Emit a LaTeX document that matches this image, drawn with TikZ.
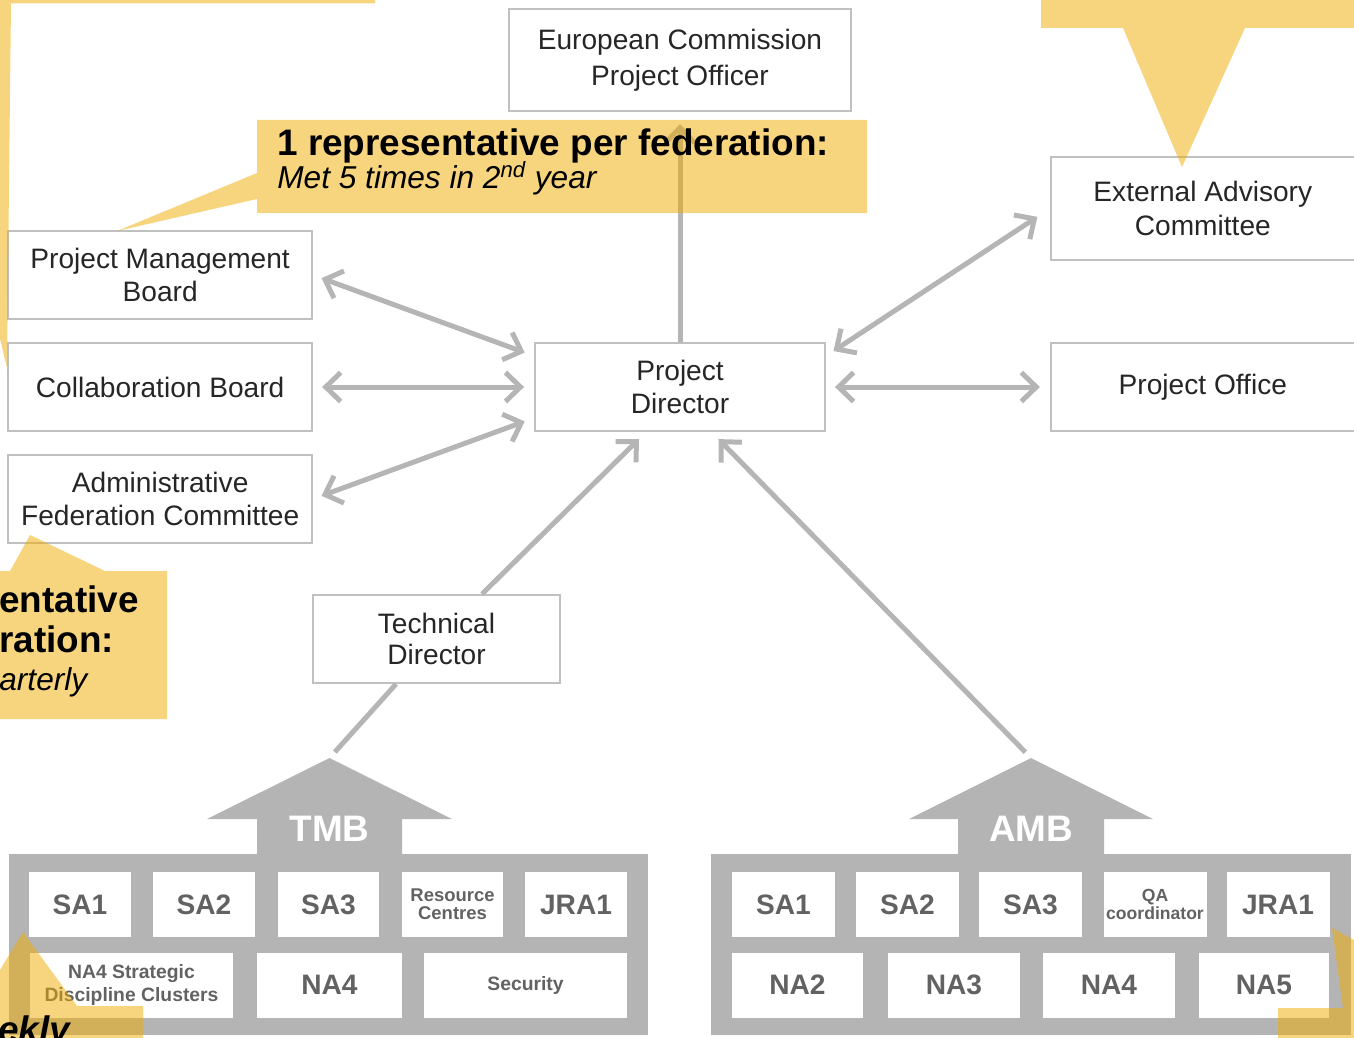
\documentclass[tikz,border=0pt]{standalone}
\usepackage{fontspec}
\setmainfont{Liberation Sans}
\usetikzlibrary{arrows.meta,positioning}
\definecolor{boxline}{RGB}{192,192,192}
\definecolor{linkgray}{RGB}{181,181,181}
\definecolor{housegray}{RGB}{180,180,180}
\definecolor{celltext}{RGB}{98,98,98}
\definecolor{noteyellow}{RGB}{240,172,0}
\tikzset{
	barb/.tip={Straight Barb[length=0.3cm,width=0.58cm]},
	role/.style ={rectangle, draw=boxline, line width=1.1pt, fill=white, inner sep=0pt,
		align=center, text=black!85, font=\fontsize{16}{19}\selectfont,
		minimum width=6.08cm, minimum height=1.76cm},
	link/.style={draw=linkgray, line width=0.1cm},
	twoway/.style={link, barb-barb, shorten <=0.18cm, shorten >=0.2cm},
	oneway/.style={link, -barb, shorten >=0.2cm},
	cell/.style={fill=white, inner sep=0pt, minimum height=1.3cm, align=center,
		text=celltext, font=\bfseries\fontsize{16}{18}\selectfont},
	smallcell/.style={cell, font=\bfseries\fontsize{10.5}{10.5}\selectfont},
	housetag/.style={text=white, font=\bfseries\fontsize{21}{22}\selectfont},
	note/.style={fill=noteyellow, fill opacity=0.5},
	notebold/.style={anchor=base west, inner sep=0pt, font=\bfseries\fontsize{21}{23}\selectfont},
	noteital/.style={anchor=base west, inner sep=0pt, font=\itshape\fontsize{18}{20}\selectfont}
}

\begin{document}
\begin{tikzpicture}[x=0.02cm, y=-0.02cm]
	\useasboundingbox (0,0) rectangle (1354,1037);

	\node[role, minimum width=5.8cm] (pd) at (680,387) {Project\\Director};
	\node[role, minimum width=6.84cm, minimum height=2.04cm, font=\fontsize{16}{20.5}\selectfont] (ec) [above=4.6cm of pd] {European Commission\\Project Officer};
	\node[role] (po) [right=4.48cm of pd] {Project Office};
	\node[role, minimum height=2.06cm] (eac) [above=1.62cm of po] {External Advisory\\Committee};
	\node[role] (cb) [left=4.42cm of pd] {Collaboration Board};
	\node[role] (pmb) [above=0.44cm of cb] {Project Management\\Board};
	\node[role] (afc) [below=0.44cm of cb] {Administrative\\Federation Committee};
	\node[role, minimum width=4.94cm, font=\fontsize{16}{17.5}\selectfont] (td) at (436.5,639) {Technical\\Director};

	% the two management boards
	\fill[housegray] (9,854) rectangle (648,1035);
	\fill[housegray] (257,856) -- (257,819) -- (207,819) -- (329.5,758) -- (452,819) -- (402,819) -- (402,856) -- cycle;
	\coordinate (tmbtip) at (329.5,758);
	\node[housetag] (tmb) at (329.5,829) {TMB};
	\node[cell, minimum width=2.04cm] (tsa1) at (80,904.5) {SA1};
	\node[cell, minimum width=2.04cm] (tsa2) at (204,904.5) {SA2};
	\node[cell, minimum width=2.04cm] (tsa3) at (328.5,904.5) {SA3};
	\node[smallcell, minimum width=2.04cm] (trc) at (452.5,904.5) {Resource\\Centres};
	\node[cell, minimum width=2.04cm] (tjra1) at (576,904.5) {JRA1};
	\node[smallcell, minimum width=4.06cm, font=\bfseries\fontsize{11}{13.5}\selectfont] (tna4s) at (131.5,985) {NA4 Strategic\\Discipline Clusters};
	\node[cell, minimum width=2.9cm] (tna4) at (329.5,985) {NA4};
	\node[smallcell, minimum width=4.06cm, font=\bfseries\fontsize{11}{13}\selectfont] (tsec) at (525.5,985) {Security};

	\fill[housegray] (711,854) rectangle (1351,1035);
	\fill[housegray] (958,856) -- (958,819) -- (909,819) -- (1031,758) -- (1153,819) -- (1104,819) -- (1104,856) -- cycle;
	\coordinate (ambtip) at (1031,758);
	\node[housetag] (amb) at (1031,829) {AMB};
	\node[cell, minimum width=2.06cm] (asa1) at (783.5,904.5) {SA1};
	\node[cell, minimum width=2.06cm] (asa2) at (907.5,904.5) {SA2};
	\node[cell, minimum width=2.06cm] (asa3) at (1030.5,904.5) {SA3};
	\node[smallcell, minimum width=2.06cm, font=\bfseries\fontsize{10}{10.5}\selectfont] (aqa) at (1155,904.5) {QA\\coordinator};
	\node[cell, minimum width=2.06cm] (ajra1) at (1278,904.5) {JRA1};
	\node[cell, minimum width=2.62cm] (ana2) at (797.5,985) {NA2};
	\node[cell, minimum width=2.64cm] (ana3) at (954,985) {NA3};
	\node[cell, minimum width=2.64cm] (ana4) at (1109,985) {NA4};
	\node[cell, minimum width=2.6cm] (ana5) at (1264,985) {NA5};

	\path (pmb.east) edge[twoway] (pd.168);
	\path (cb) edge[twoway] (pd);
	\path (afc.east) edge[twoway] (pd.192);
	\path (pd.12) edge[twoway, shorten >=0.3cm] (eac.west);
	\path (pd) edge[twoway] (po);
	\path (pd) edge[oneway, shorten >=0.24cm] (ec);
	\path (td) edge[oneway] (pd.233);
	\path (tmbtip) edge[link, shorten <=0.16cm] (td);
	\path (ambtip) edge[oneway, shorten <=0.16cm] (pd.305);

	% callouts
	\fill[note] (257,120) -- (867,120) -- (867,213) -- (257,213) -- (257,199) -- (117,231) -- (257,173) -- cycle;
	\node[notebold] (note1a) at (277,155) {1 representative per federation:};
	\node[noteital] (note1b) at (277,189) {Met 5 times in 2\textsuperscript{nd} year};
	\fill[note] (-10,571) -- (10,571) -- (30,535) -- (105,571) -- (167,571) -- (167,719) -- (-10,719) -- cycle;
	\node[notebold] (note2a) at (-1,612) {entative};
	\node[notebold] (note2b) at (-1,652) {ration:};
	\node[noteital] (note2c) at (-1,690) {arterly};
	\fill[note] (-100,-20) -- (375,-20) -- (375,3.5) -- (11,3.5) -- (7,368) -- (-80,3.5) -- (-100,3.5) -- cycle;
	\fill[note] (1041,-20) -- (1374,-20) -- (1374,28) -- (1245,28) -- (1182,167) -- (1123,28) -- (1041,28) -- cycle;
	\fill[note] (-20,1003) -- (23,932) -- (77,1006) -- (143,1006) -- (143,1057) -- (-20,1057) -- cycle;
	\node[notebold, font=\bfseries\itshape\fontsize{21}{23}\selectfont] (note5) at (-2,1042) {ekly};
	\fill[note] (1278,1008) -- (1343,1008) -- (1332,928) -- (1374,951) -- (1374,1057) -- (1278,1057) -- cycle;
\end{tikzpicture}
\end{document}
